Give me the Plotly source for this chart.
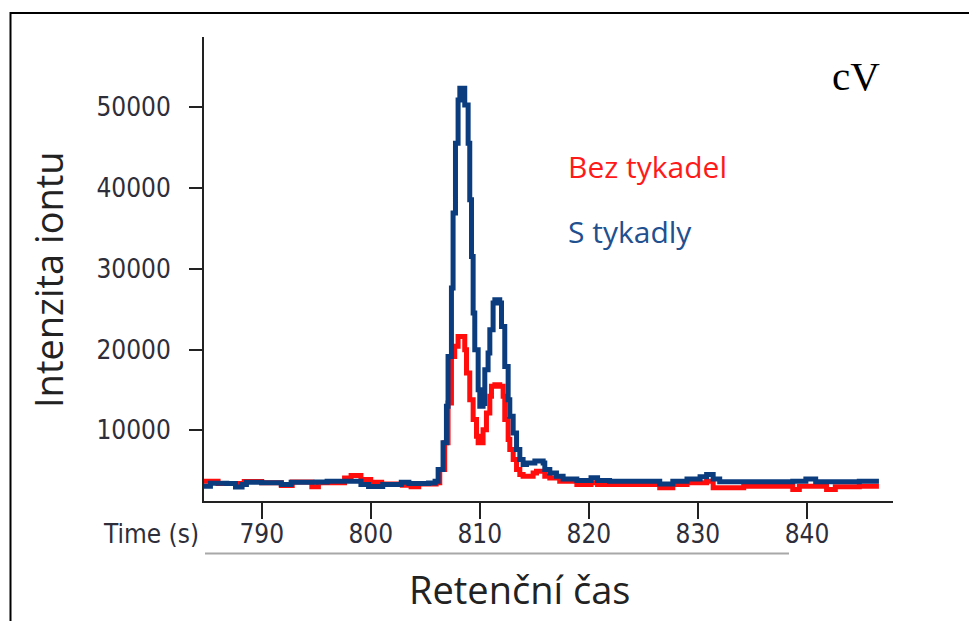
import plotly.graph_objects as go

# ---- data: step-wise chromatogram change points (time s, intensity) ----
t_blue = [784.7, 785.3, 786.8, 787.6, 788.2, 788.6, 790.0, 791.8, 792.7, 795.0,
          796.0, 799.1, 799.8, 801.1, 802.8, 803.5, 805.3, 805.9, 806.18, 806.63,
          806.94, 807.09, 807.4, 807.55, 807.77, 808.01, 808.17, 808.62, 808.93, 809.08,
          809.24, 809.39, 809.54, 809.85, 810.0, 810.3, 810.46, 810.76, 810.92, 811.22,
          811.38, 811.83, 811.99, 812.29, 812.6, 812.75, 813.06, 813.37, 813.67, 813.97,
          814.28, 815.05, 815.81, 815.96, 816.42, 817.03, 817.64, 818.9, 820.2, 820.8,
          821.9, 826.5, 827.7, 829.0, 830.2, 830.8, 831.4, 832.0, 838.7, 839.9,
          840.8, 844.8, 846.6]
v_blue = [3070, 3450, 3400, 2990, 3300, 3560, 3490, 3280, 3560, 3600,
          3690, 3280, 3050, 3280, 3550, 3400, 3480, 3700, 5130, 8440,
          12960, 19150, 27610, 36890, 45550, 50900, 52350, 50280, 45550, 38530,
          31520, 24520, 19980, 15030, 12960, 13300, 17500, 19570, 22450, 25750,
          26160, 25750, 22860, 17910, 13790, 11730, 9670, 7610, 6380, 5750,
          5960, 6200, 5960, 5130, 4720, 4310, 3980, 3770, 4110, 3770,
          3690, 3340, 3690, 3980, 4250, 4520, 3980, 3620, 3690, 3980,
          3620, 3690, 3690]

t_red = [784.7, 786.0, 788.4, 790.0, 791.8, 792.8, 794.6, 795.2, 797.6, 798.2,
         799.1, 800.0, 801.0, 802.9, 803.7, 804.4, 806.0, 806.33, 806.78, 807.09,
         807.4, 807.7, 808.01, 808.62, 808.78, 809.08, 809.39, 809.7, 809.85, 810.3,
         810.61, 810.92, 811.07, 811.38, 811.83, 812.14, 812.29, 812.6, 812.75, 813.06,
         813.37, 813.67, 813.97, 814.89, 815.2, 815.96, 816.42, 817.33, 818.9, 820.2,
         820.8, 826.5, 827.7, 829.0, 830.8, 831.4, 834.2, 838.7, 839.3, 841.8,
         842.6, 844.8, 846.6]
v_red = [3700, 3400, 3650, 3500, 3150, 3600, 3000, 3500, 4100, 4400,
         3900, 3550, 3350, 3200, 3000, 3350, 3490, 5130, 8440, 13380,
         19150, 20390, 21620, 19980, 17090, 13790, 11320, 9250, 8440, 10080,
         12150, 14200, 15440, 15650, 15440, 14200, 11320, 8850, 7610, 6380,
         5130, 4510, 4310, 4720, 4920, 4310, 4100, 3690, 3280, 3490,
         3280, 2870, 3280, 3490, 3700, 2870, 3070, 2660, 3070, 2660,
         3000, 3070, 3070]

x_ticks = [790, 800, 810, 820, 830, 840]
y_ticks = [10000, 20000, 30000, 40000, 50000]
x_range = [784.71, 847.89]
y_range = [1243, 58695]

BLUE = "#0B3C7D"
RED = "#FF0D0D"
TXT = "#2E2E3A"

W, H = 969, 621
L, R, T, B = 204, 76, 37, 120
PW, PH = W - L - R, H - T - B


def px(x):
    return (x - L) / PW


def py(y):
    return (H - B - y) / PH


fig = go.Figure()
fig.add_trace(go.Scatter(x=t_red, y=v_red, mode="lines", line=dict(color=RED, width=5, shape="hv"),
                         showlegend=False, hoverinfo="skip"))
fig.add_trace(go.Scatter(x=t_blue, y=v_blue, mode="lines", line=dict(color=BLUE, width=5, shape="hv"),
                         showlegend=False, hoverinfo="skip"))

tick_font = dict(family="DejaVu Sans Condensed, Liberation Sans, sans-serif", size=26, color=TXT)
label_font = "Open Sans, Lato, sans-serif"

fig.update_layout(
    width=W, height=H,
    margin=dict(l=L, r=R, t=T, b=B, pad=0),
    paper_bgcolor="white", plot_bgcolor="white",
    xaxis=dict(range=x_range, tickvals=x_ticks, ticktext=[str(v) for v in x_ticks],
               showgrid=False, zeroline=False, showline=True, linecolor="#222", linewidth=2,
               ticks="outside", ticklen=16, tickwidth=2, tickcolor="#222",
               tickfont=tick_font, ticklabelstandoff=-7),
    yaxis=dict(range=y_range, tickvals=y_ticks, ticktext=[str(v) for v in y_ticks],
               showgrid=False, zeroline=False, showline=True, linecolor="#222", linewidth=2,
               ticks="outside", ticklen=13, tickwidth=2, tickcolor="#222",
               tickfont=tick_font, ticklabelstandoff=13),
    shapes=[
        dict(type="rect", xref="paper", yref="paper", x0=px(10.5), x1=px(990), y0=py(640), y1=py(13),
             line=dict(color="black", width=2), fillcolor="rgba(0,0,0,0)", layer="below"),
        dict(type="line", xref="paper", yref="paper", x0=px(205), x1=px(789), y0=py(553.5), y1=py(553.5),
             line=dict(color="#A8A8A8", width=2)),
    ],
    annotations=[
        dict(text="cV", xref="paper", yref="paper", x=px(830), y=py(76), xanchor="left", yanchor="middle",
             showarrow=False, font=dict(family="Liberation Serif, Times New Roman, serif", size=41, color="black")),
        dict(text="Bez tykadel", xref="paper", yref="paper", x=px(566), y=py(166.7), xanchor="left", yanchor="middle",
             showarrow=False, font=dict(family=label_font, size=30, color="#FF1A1A")),
        dict(text="S tykadly", xref="paper", yref="paper", x=px(566), y=py(231.5), xanchor="left", yanchor="middle",
             showarrow=False, font=dict(family=label_font, size=30, color="#22508F")),
        dict(text="Retenční čas", xref="paper", yref="paper", x=px(519), y=py(589), xanchor="center", yanchor="middle",
             showarrow=False, font=dict(family=label_font, size=38, color="#222")),
        dict(text="Intenzita iontu", xref="paper", yref="paper", x=px(48), y=py(280), xanchor="center", yanchor="middle",
             textangle=-90, showarrow=False, font=dict(family=label_font, size=38, color="#222")),
        dict(text="Time (s)", xref="paper", yref="paper", x=px(201), y=py(534), xanchor="right", yanchor="middle",
             showarrow=False, font=tick_font),
    ],
)

fig.write_html("out.html")
